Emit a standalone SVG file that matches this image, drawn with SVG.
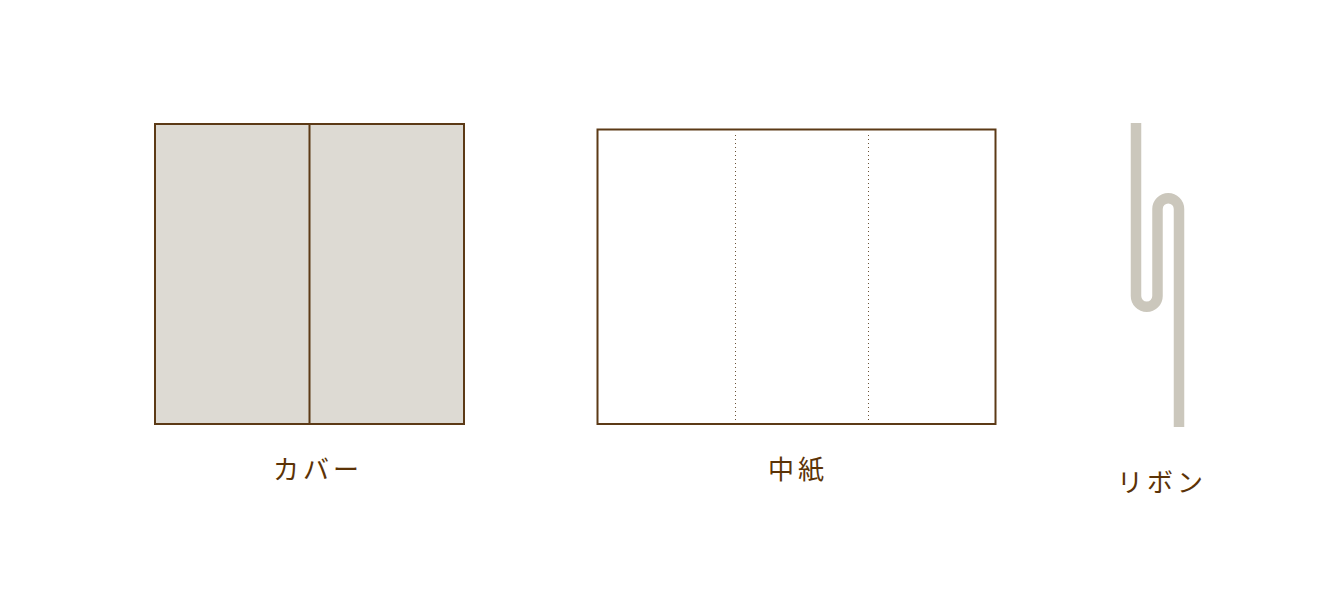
<svg xmlns="http://www.w3.org/2000/svg" width="1344" height="600" viewBox="0 0 1344 600">
<style>
.lbl{font-family:"Noto Sans CJK JP","Noto Sans",sans-serif;font-size:26px;fill:#5c3306;text-anchor:middle;letter-spacing:4px}
.edge{stroke:#5c3a16;stroke-width:2;}
</style>
<rect width="1344" height="600" fill="#ffffff"/>
<g id="cover">
<rect x="155" y="124" width="309" height="300" fill="#dddad3" class="edge"/>
<line x1="309.5" y1="124" x2="309.5" y2="424" class="edge"/>
<text class="lbl" x="318" y="479">カバー</text>
</g>
<g id="paper">
<rect x="597.5" y="129.5" width="398" height="294.5" fill="#ffffff" stroke="#5c3a16" stroke-width="2"/>
<g stroke="#6a5236" stroke-width="1" stroke-dasharray="1 3">
<line x1="735.5" y1="135" x2="735.5" y2="420"/>
<line x1="868.5" y1="135" x2="868.5" y2="420"/>
</g>
<text class="lbl" x="798" y="479">中紙</text>
</g>
<g id="ribbon">
<path d="M1136 123 V296 A10.75 10.75 0 0 0 1157.5 296 V209 A10.75 10.75 0 0 1 1179 209 V427" fill="none" stroke="#cbc7bc" stroke-width="10.5"/>
<text class="lbl" x="1162" y="492">リボン</text>
</g>
</svg>
